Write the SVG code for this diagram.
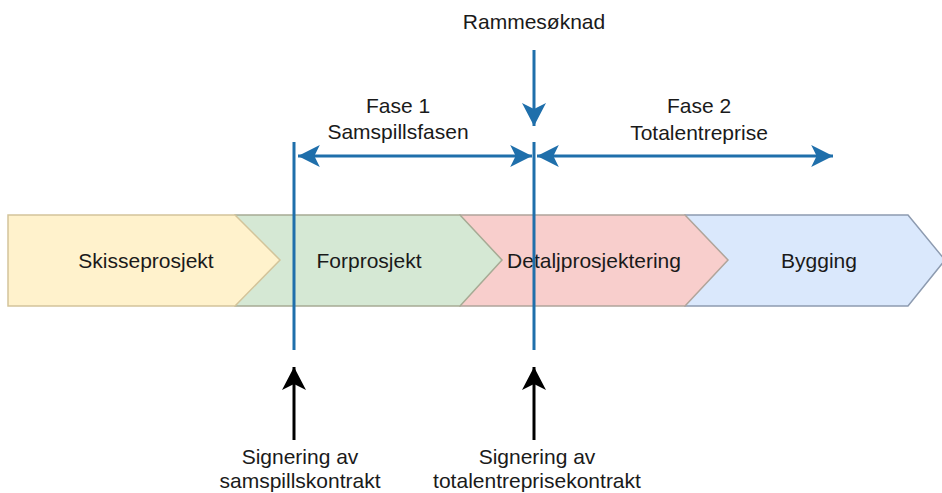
<svg xmlns="http://www.w3.org/2000/svg" width="942" height="493" viewBox="0 0 942 493">
<style>
text{font-family:"Liberation Sans",Arial,Helvetica,sans-serif;font-size:21px;fill:#1a1a1a;text-anchor:middle}
.blue{stroke:#1f6fab;stroke-width:3;fill:none}
.blk{stroke:#000;stroke-width:3;fill:none}
</style>
<defs>
<marker id="ab" markerUnits="userSpaceOnUse" markerWidth="24" markerHeight="24" viewBox="-21 -11 22 22" refX="0" refY="0" orient="auto-start-reverse">
<path d="M0,0 L-20,-10 L-15,0 L-20,10 Z" fill="#1f6fab"/>
</marker>
<marker id="abv" markerUnits="userSpaceOnUse" markerWidth="26" markerHeight="26" viewBox="-24 -13 25 26" refX="0" refY="0" orient="auto">
<path d="M0,0 L-23,-12 L-17,0 L-23,12 Z" fill="#1f6fab"/>
</marker>
<marker id="ak" markerUnits="userSpaceOnUse" markerWidth="26" markerHeight="26" viewBox="-24 -13 25 26" refX="0" refY="0" orient="auto">
<path d="M0,0 L-23,-12 L-17,0 L-23,12 Z" fill="#000"/>
</marker>
</defs>
<g id="bygging">
<polygon points="685,215 908,215 945,260 908,306 685,306" fill="#dae8fc" stroke="#8d9bb0" stroke-width="1.5"/>
<text x="819" y="268">Bygging</text>
</g>
<g id="detaljprosjektering">
<polygon points="460,215 685,215 728,260 685,306 460,306" fill="#f8cecc" stroke="#b0a49a" stroke-width="1.5"/>
<text x="594" y="268">Detaljprosjektering</text>
</g>
<g id="forprosjekt">
<polygon points="235,215 460,215 502,260 460,306 235,306" fill="#d5e8d4" stroke="#a6aa94" stroke-width="1.5"/>
<text x="369" y="268">Forprosjekt</text>
</g>
<g id="skisseprosjekt">
<polygon points="8,215 235,215 280,260 235,306 8,306" fill="#fff2cc" stroke="#d3c49a" stroke-width="1.5"/>
<text x="146" y="268">Skisseprosjekt</text>
</g>
<g id="labels">
<text x="534" y="29">Rammesøknad</text>
<text x="398" y="113">Fase 1</text>
<text x="398" y="139">Samspillsfasen</text>
<text x="699" y="113">Fase 2</text>
<text x="699" y="140">Totalentreprise</text>
<text x="300" y="464">Signering av</text>
<text x="300" y="488">samspillskontrakt</text>
<text x="537" y="464">Signering av</text>
<text x="537" y="488">totalentreprisekontrakt</text>
</g>
<g id="connectors">
<line class="blue" x1="294" y1="142" x2="294" y2="350"/>
<line class="blue" x1="534" y1="142" x2="534" y2="350"/>
<line class="blue" x1="298" y1="156" x2="532" y2="156" marker-start="url(#ab)" marker-end="url(#ab)"/>
<line class="blue" x1="537" y1="156" x2="833" y2="156" marker-start="url(#ab)" marker-end="url(#ab)"/>
<line class="blue" x1="534" y1="50" x2="534" y2="126" marker-end="url(#abv)"/>
<line class="blk" x1="294" y1="440" x2="294" y2="367" marker-end="url(#ak)"/>
<line class="blk" x1="534" y1="440" x2="534" y2="367" marker-end="url(#ak)"/>
</g>
</svg>
